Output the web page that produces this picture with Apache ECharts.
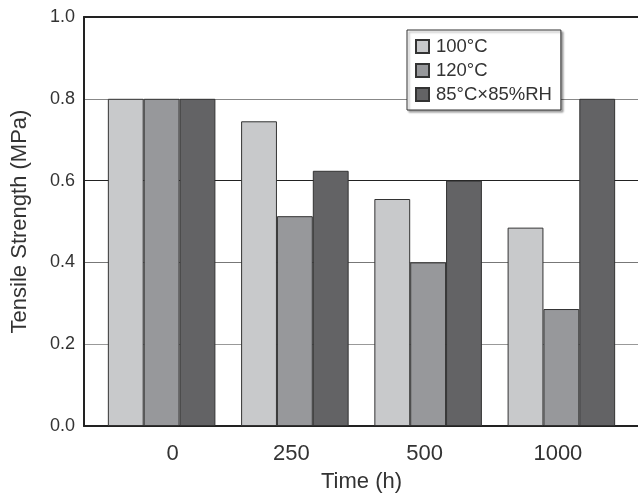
<!DOCTYPE html>
<html>
<head>
<meta charset="utf-8">
<script src="https://cdn.jsdelivr.net/npm/echarts@6/dist/echarts.min.js"></script>
<style>html,body{margin:0;padding:0;background:#fff;}#c{width:638px;height:503px;}</style>
</head>
<body>
<div id="c"></div>
<script>
var categories = ['0', '250', '500', '1000'];
var seriesNames = ['100°C', '120°C', '85°C×85%RH'];
var s100 = [0.80, 0.745, 0.555, 0.485];
var s120 = [0.80, 0.513, 0.400, 0.286];
var s85 = [0.80, 0.624, 0.600, 0.800];
var yTicks = [0, 0.2, 0.4, 0.6, 0.8, 1.0];

var FONT = 'Liberation Sans';
var colors = ['#c8c9cb', '#97989b', '#636365'];
var chart = echarts.init(document.getElementById('c'), null, {renderer: 'canvas'});

function bar(name, data, color) {
  return {
    name: name, type: 'bar', data: data,
    xAxisIndex: 2, yAxisIndex: 1,
    barGap: '0%', barCategoryGap: '19.3%',
    itemStyle: {color: color, borderColor: '#333', borderWidth: 1},
    emphasis: {disabled: true}
  };
}

chart.setOption({
  animation: false,
  backgroundColor: '#fff',
  textStyle: {fontFamily: FONT},
  grid: [
    {left: 84, right: 0, top: 17, bottom: 77},
    {left: 95, right: 10, top: 17, bottom: 77}
  ],
  legend: {
    orient: 'vertical', left: 407, top: 30,
    data: seriesNames,
    itemWidth: 13, itemHeight: 13, itemGap: 5,
    padding: [7, 9, 6, 8],
    backgroundColor: '#fff', borderColor: '#333', borderWidth: 1,
    shadowColor: 'rgba(0,0,0,0.35)', shadowBlur: 2, shadowOffsetX: 2, shadowOffsetY: 2,
    icon: 'rect',
    textStyle: {fontFamily: FONT, fontSize: 18.5, color: '#333', padding: [0, 0, 0, 2]}
  },
  xAxis: [
    {gridIndex: 0, type: 'value', min: 0, max: 1, position: 'bottom',
     axisLine: {show: true, lineStyle: {color: '#222', width: 2}},
     axisTick: {show: false}, axisLabel: {show: false}, splitLine: {show: false}},
    {gridIndex: 0, type: 'value', min: 0, max: 1, position: 'top',
     axisLine: {show: true, lineStyle: {color: '#222', width: 2}},
     axisTick: {show: false}, axisLabel: {show: false}, splitLine: {show: false}},
    {gridIndex: 1, type: 'category', data: categories, position: 'bottom',
     axisLine: {show: false}, axisTick: {show: false}, splitLine: {show: false},
     axisLabel: {
       margin: 17, fontFamily: FONT, fontSize: 22, color: '#333',
       formatter: function (v, i) { return i === 0 ? '{a|' + v + '}' : '{b|' + v + '}'; },
       rich: {
         a: {fontFamily: FONT, fontSize: 22, color: '#333', padding: [0, 0, 0, 22]},
         b: {fontFamily: FONT, fontSize: 22, color: '#333', padding: [0, 7, 0, 0]}
       }
     },
     name: 'Time (h)', nameLocation: 'middle', nameGap: 45,
     nameTextStyle: {fontFamily: FONT, fontSize: 22, color: '#333'}}
  ],
  yAxis: [
    {gridIndex: 0, type: 'value', min: yTicks[0], max: yTicks[yTicks.length - 1], interval: 0.2,
     axisLine: {show: true, lineStyle: {color: '#222', width: 2}},
     axisTick: {show: false},
     axisLabel: {margin: 9, fontFamily: FONT, fontSize: 18, color: '#333',
       formatter: function (v) { return v.toFixed(1); }},
     splitLine: {show: true, lineStyle: {color: ['#222', '#999', '#777', '#222', '#888', '#222'], width: 1}},
     name: 'Tensile Strength (MPa)', nameLocation: 'middle', nameGap: 53,
     nameTextStyle: {fontFamily: FONT, fontSize: 22, color: '#333'}},
    {gridIndex: 1, type: 'value', min: 0, max: 1, show: false, splitLine: {show: false}}
  ],
  series: [
    bar(seriesNames[0], s100, colors[0]),
    bar(seriesNames[1], s120, colors[1]),
    bar(seriesNames[2], s85, colors[2])
  ]
});
</script>
</body>
</html>
